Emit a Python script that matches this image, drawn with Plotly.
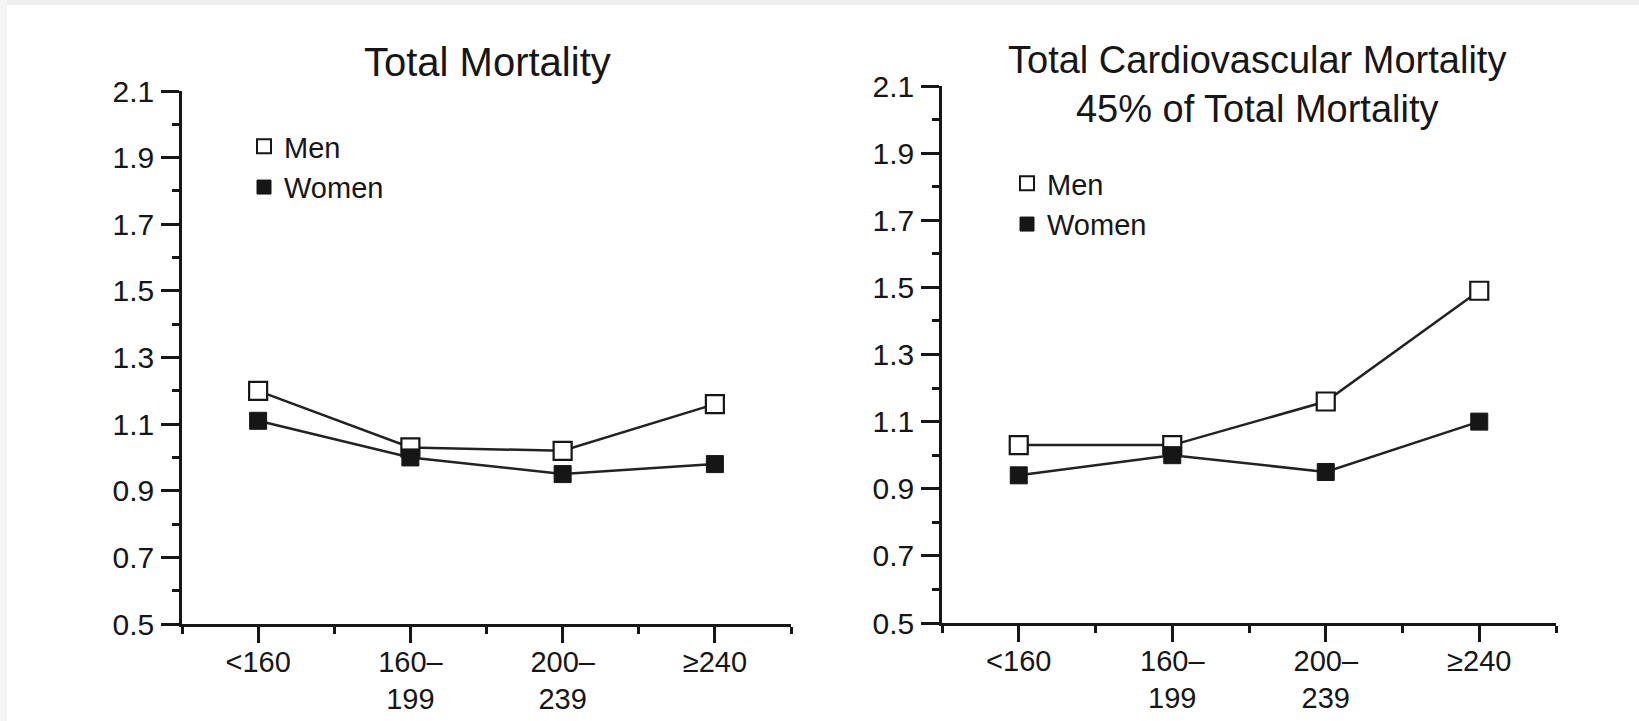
import plotly.graph_objects as go

# ---- data ----
categories = ["<160", "160–<br>199", "200–<br>239", "≥240"]
cat_pos = [0, 1, 2, 3]

total_men = [1.20, 1.03, 1.02, 1.16]
total_women = [1.11, 1.00, 0.95, 0.98]

cv_men = [1.03, 1.03, 1.16, 1.49]
cv_women = [0.94, 1.00, 0.95, 1.10]

y_major = [0.5, 0.7, 0.9, 1.1, 1.3, 1.5, 1.7, 1.9, 2.1]
y_major_text = ["0.5", "0.7", "0.9", "1.1", "1.3", "1.5", "1.7", "1.9", "2.1"]
y_minor = [0.6, 0.8, 1.0, 1.2, 1.4, 1.6, 1.8, 2.0]
x_minor = [-0.5, 0.5, 1.5, 2.5, 3.5]

title_left = "Total Mortality"
title_right = "Total Cardiovascular Mortality<br>45% of Total Mortality"

W, H = 1639, 721
FONT = "Liberation Sans, Arial, Helvetica, sans-serif"
INK = "#161616"

fig = go.Figure()

MEN_MARKER = dict(symbol="square", size=18, color="white", line=dict(color=INK, width=2.2))
WOMEN_MARKER = dict(symbol="square", size=17, color=INK, line=dict(color=INK, width=1))


def add_series(xaxis, yaxis, men, women, legend):
    fig.add_trace(go.Scatter(
        x=cat_pos, y=men, name="Men", mode="lines+markers",
        xaxis=xaxis, yaxis=yaxis, showlegend=False,
        line=dict(color="#222222", width=2.5), marker=MEN_MARKER,
    ))
    fig.add_trace(go.Scatter(
        x=cat_pos, y=women, name="Women", mode="lines+markers",
        xaxis=xaxis, yaxis=yaxis, showlegend=False,
        line=dict(color="#222222", width=2.5), marker=WOMEN_MARKER,
    ))
    # legend entries (marker only, like the reference key)
    fig.add_trace(go.Scatter(
        x=[None], y=[None], name="Men", mode="markers",
        xaxis=xaxis, yaxis=yaxis, legend=legend,
        marker=dict(symbol="square", size=14, color="white",
                    line=dict(color=INK, width=2)),
    ))
    fig.add_trace(go.Scatter(
        x=[None], y=[None], name="Women", mode="markers",
        xaxis=xaxis, yaxis=yaxis, legend=legend,
        marker=dict(symbol="square", size=14, color=INK,
                    line=dict(color=INK, width=1)),
    ))


add_series("x", "y", total_men, total_women, "legend")
add_series("x2", "y2", cv_men, cv_women, "legend2")


def xaxis_style(domain, anchor):
    return dict(
        domain=domain, anchor=anchor, range=[-0.5, 3.5],
        tickmode="array", tickvals=cat_pos, ticktext=categories,
        ticks="outside", ticklen=16, tickwidth=2.5, tickcolor=INK,
        minor=dict(tickmode="array", tickvals=x_minor, ticks="outside",
                   ticklen=7, tickwidth=2.5, tickcolor=INK),
        showline=True, linecolor=INK, linewidth=2.5,
        showgrid=False, zeroline=False, automargin=False,
        ticklabelstandoff=-6,
        tickfont=dict(family=FONT, size=29, color=INK),
        fixedrange=True,
    )


def yaxis_style(domain, anchor):
    return dict(
        domain=domain, anchor=anchor, range=[0.5, 2.1],
        tickmode="array", tickvals=y_major, ticktext=y_major_text,
        ticks="outside", ticklen=18, tickwidth=2.5, tickcolor=INK,
        minor=dict(tickmode="array", tickvals=y_minor, ticks="outside",
                   ticklen=7, tickwidth=2.5, tickcolor=INK),
        showline=True, linecolor=INK, linewidth=2.5,
        showgrid=False, zeroline=False, automargin=False,
        ticklabelstandoff=1,
        tickfont=dict(family=FONT, size=30, color=INK),
        fixedrange=True,
    )


fig.update_layout(
    width=W, height=H,
    margin=dict(l=0, r=0, t=0, b=0),
    paper_bgcolor="white", plot_bgcolor="white",
    font=dict(family=FONT, color=INK),
    xaxis=xaxis_style([182 / W, 791 / W], "y"),
    yaxis=yaxis_style([1 - 624 / H, 1 - 91 / H], "x"),
    xaxis2=xaxis_style([942 / W, 1556 / W], "y2"),
    yaxis2=yaxis_style([1 - 623 / H, 1 - 86 / H], "x2"),
    legend=dict(x=244 / W, y=1 - 121 / H, xanchor="left", yanchor="top",
                bgcolor="rgba(0,0,0,0)", borderwidth=0,
                font=dict(family=FONT, size=29, color=INK), tracegroupgap=0),
    legend2=dict(x=1007 / W, y=1 - 158 / H, xanchor="left", yanchor="top",
                 bgcolor="rgba(0,0,0,0)", borderwidth=0,
                 font=dict(family=FONT, size=29, color=INK), tracegroupgap=0),
    annotations=[
        dict(text=title_left, x=487 / W, y=1 - 62 / H, xref="paper", yref="paper",
             xanchor="center", yanchor="middle", showarrow=False,
             font=dict(family=FONT, size=40, color=INK)),
        dict(text=title_right, x=1257 / W, y=1 - 85 / H, xref="paper", yref="paper",
             xanchor="center", yanchor="middle", showarrow=False,
             font=dict(family=FONT, size=38, color=INK)),
    ],
    shapes=[
        dict(type="rect", xref="paper", yref="paper", x0=0, x1=1,
             y0=1 - 5 / H, y1=1, fillcolor="#eeeeee", line=dict(width=0), layer="below"),
        dict(type="rect", xref="paper", yref="paper", x0=0, x1=7 / W,
             y0=0, y1=1, fillcolor="#f5f5f5", line=dict(width=0), layer="below"),
    ],
)

fig.write_html("out.html", config={"displayModeBar": False},
               post_script="document.body.style.margin='0';document.body.style.overflow='hidden';")
